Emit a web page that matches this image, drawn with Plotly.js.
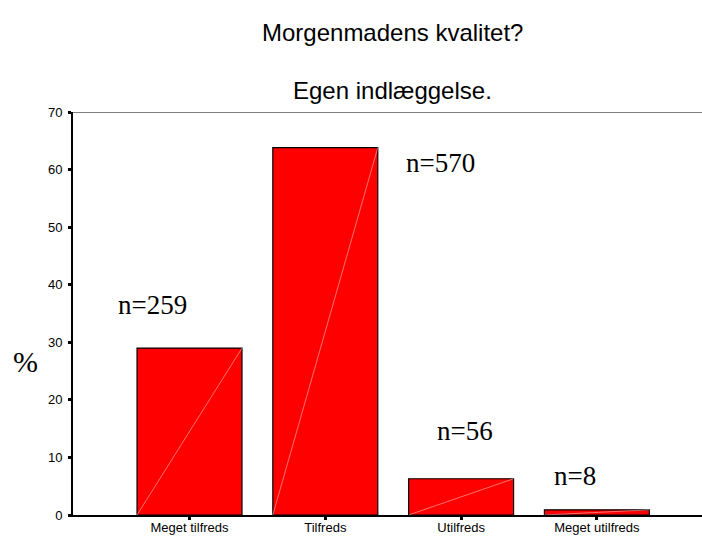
<!DOCTYPE html>
<html>
<head>
<meta charset="utf-8">
<script src="https://cdn.plot.ly/plotly-3.0.1.min.js"></script>
<style>html,body{margin:0;padding:0;background:#fff;}#chart{width:702px;height:536px;}</style>
</head>
<body>
<div id="chart"></div>
<script>
const categories = ["Meget tilfreds", "Tilfreds", "Utilfreds", "Meget utilfreds"];
const counts = [259, 570, 56, 8];
const percents = [29.0, 63.8, 6.3, 0.9];
const countLabels = ["n=259", "n=570", "n=56", "n=8"];
const labelX = [-0.27, 1.85, 2.03, 2.84];
const labelY = [36.5, 61.1, 14.6, 6.8];
const titleLines = ["Morgenmadens kvalitet?", "Egen indlæggelse."];
const yTicks = [0, 10, 20, 30, 40, 50, 60, 70];

const barWidth = 0.773;
const xIdx = categories.map((c, i) => i);

const trace = {
  type: "bar",
  x: xIdx,
  y: percents,
  width: barWidth,
  marker: { color: "#ff0000", line: { color: "#000", width: 1.2 } },
  hoverinfo: "skip"
};

const shapes = percents.map((v, i) => ({
  type: "line", xref: "x", yref: "y",
  x0: i - barWidth / 2, y0: 0, x1: i + barWidth / 2, y1: v,
  line: { color: "rgba(255,255,255,0.55)", width: 0.8 }
}));
shapes.push({
  type: "line", xref: "paper", yref: "y", x0: 0, x1: 1, y0: 70, y1: 70,
  line: { color: "#555", width: 1.5 }, layer: "below"
});

const annotations = countLabels.map((t, i) => ({
  text: t, x: labelX[i], y: labelY[i], xref: "x", yref: "y",
  xanchor: "center", yanchor: "middle",
  showarrow: false, font: { family: "Liberation Serif, Times New Roman, serif", size: 27, color: "#000" }
}));
annotations.push({
  text: titleLines[0], xref: "paper", yref: "paper", x: 0.508, y: 1, yshift: 80,
  xanchor: "center", yanchor: "middle",
  showarrow: false, font: { family: "Liberation Sans, Arial, sans-serif", size: 24, color: "#000" }
});
annotations.push({
  text: titleLines[1], xref: "paper", yref: "paper", x: 0.508, y: 1, yshift: 22,
  xanchor: "center", yanchor: "middle",
  showarrow: false, font: { family: "Liberation Sans, Arial, sans-serif", size: 24, color: "#000" }
});
annotations.push({
  text: "%", xref: "paper", yref: "paper", x: 0, y: 0.38, xshift: -48,
  xanchor: "center", yanchor: "middle",
  showarrow: false, font: { family: "Liberation Serif, Times New Roman, serif", size: 30, color: "#000" }
});

const layout = {
  width: 702, height: 536,
  margin: { l: 73, r: 0, t: 112, b: 21, pad: 0 },
  paper_bgcolor: "#fff", plot_bgcolor: "#fff",
  showlegend: false,
  xaxis: {
    range: [-0.858, 3.774],
    tickmode: "array", tickvals: xIdx, ticktext: categories,
    ticks: "outside", ticklen: 3, tickwidth: 3, tickcolor: "#000",
    showline: true, linecolor: "#000", linewidth: 1.5,
    showgrid: false, zeroline: false,
    tickfont: { family: "Liberation Sans, Arial, sans-serif", size: 13, color: "#000" },
    ticklabelstandoff: -3
  },
  yaxis: {
    range: [0, 70],
    tickmode: "array", tickvals: yTicks, ticktext: yTicks.map(String),
    ticks: "outside", ticklen: 3, tickwidth: 3, tickcolor: "#000",
    showline: true, linecolor: "#000", linewidth: 2,
    showgrid: false, zeroline: false,
    tickfont: { family: "Liberation Sans, Arial, sans-serif", size: 13, color: "#000" },
    ticklabelstandoff: 3
  },
  shapes: shapes,
  annotations: annotations
};

Plotly.newPlot("chart", [trace], layout, { staticPlot: true, displayModeBar: false });
</script>
</body>
</html>
